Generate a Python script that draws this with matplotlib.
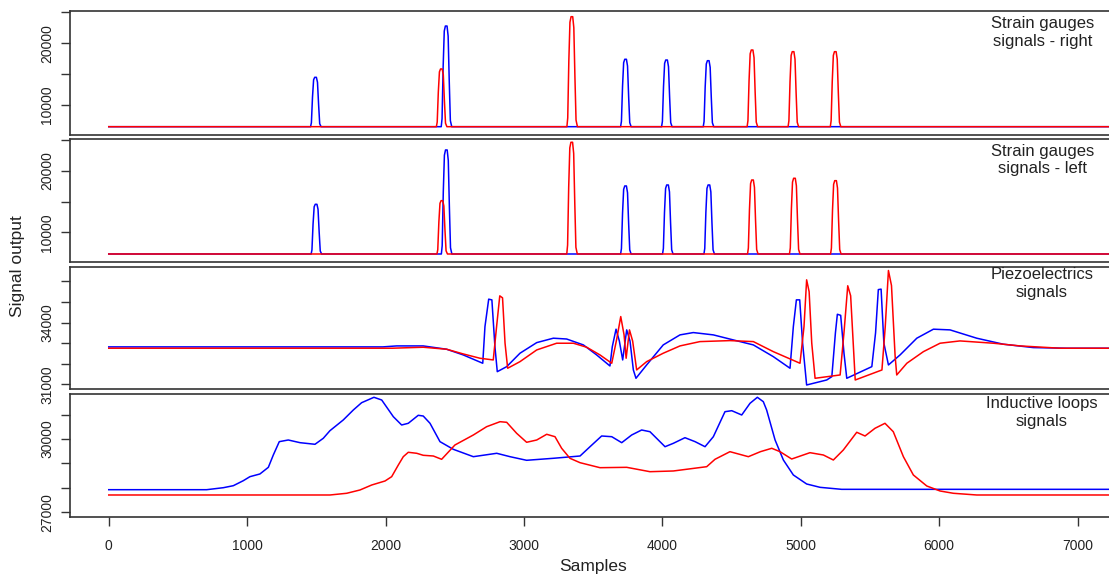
import matplotlib
matplotlib.use("Agg")
import matplotlib.pyplot as plt
import numpy as np

plt.rcParams['font.family'] = ['Liberation Sans', 'DejaVu Sans']

# ---------------- data ----------------
x_ticks = [0, 1000, 2000, 3000, 4000, 5000, 6000, 7000]
x_end = 7280

# strain gauge pulses (sample position, peak value) and baselines
sg_right_base = 6490
sg_right_blue_pos = [1494, 2438, 3734, 4030, 4331]
sg_right_blue_val = [14480, 22780, 17400, 17280, 17170]
sg_right_red_pos = [2403, 3346, 4648, 4944, 5249]
sg_right_red_val = [15830, 24290, 18900, 18630, 18630]

sg_left_base = 6470
sg_left_blue_pos = [1498, 2439, 3734, 4037, 4336]
sg_left_blue_val = [14550, 23380, 17530, 17690, 17690]
sg_left_red_pos = [2407, 3345, 4651, 4954, 5251]
sg_left_red_val = [15140, 24630, 18500, 18780, 18390]

# pulse outline: offset in samples, fraction of peak
pulse_off = [-36, -30, -22, -14, -6, 6, 14, 22, 30, 40]
pulse_rel = [0.0, 0.08, 0.6, 0.95, 1.0, 1.0, 0.9, 0.45, 0.06, 0.0]

# piezoelectric signals (sample, value)
pz_blue_x = [0, 1980, 2080, 2272, 2441, 2561, 2702, 2718, 2745, 2768, 2790, 2807, 2875, 2971,
             3092, 3212, 3308, 3429, 3525, 3621, 3638, 3665, 3689, 3713, 3742, 3766, 3790, 3809,
             3886, 4006, 4127, 4223, 4368, 4512, 4657, 4801, 4922, 4946, 4968, 4992, 5013, 5042,
             5187, 5224, 5250, 5264, 5288, 5312, 5332, 5513, 5540, 5560, 5580, 5600, 5633, 5717,
             5838, 5958, 6078, 6271, 6463, 6680, 6921, 7280]
pz_blue_y = [32817, 32817, 32864, 32864, 32703, 32426, 32022, 33803, 35136, 35100, 32830, 31613, 31857, 32509,
             33025, 33239, 33200, 32913, 32426, 31890, 32830, 33677, 33100, 32183, 33643, 33100, 31700, 31292,
             31939, 32913, 33400, 33513, 33400, 33156, 32913, 32344, 31779, 33803, 35102, 35102, 32995, 30966,
             31209, 31370, 33500, 34402, 34350, 32500, 31292, 31857, 33500, 35600, 35623, 33000, 31939, 32426,
             33239, 33677, 33643, 33239, 32947, 32783, 32752, 32752]

pz_red_x = [0, 2050, 2272, 2441, 2561, 2682, 2778, 2802, 2825, 2845, 2863, 2882, 2971, 3092,
            3236, 3357, 3453, 3549, 3634, 3670, 3699, 3723, 3738, 3762, 3785, 3814, 3886, 4006,
            4127, 4271, 4488, 4657, 4801, 4994, 5023, 5042, 5060, 5079, 5103, 5284, 5313, 5339,
            5360, 5393, 5586, 5610, 5633, 5655, 5681, 5693, 5766, 5886, 6006, 6150, 6391, 6584,
            6873, 7280]
pz_red_y = [32753, 32753, 32800, 32703, 32475, 32265, 32183, 33803, 35297, 35200, 33000, 31779, 32100, 32669,
            32995, 32995, 32800, 32426, 32022, 33200, 34290, 33400, 32265, 33643, 33100, 31696, 32100, 32509,
            32864, 33074, 33122, 33074, 32587, 32022, 33803, 36075, 35500, 32995, 31292, 31453, 33600, 35787,
            35300, 31209, 31696, 33800, 36528, 35800, 32400, 31453, 32022, 32587, 32995, 33107, 32995, 32864,
            32752, 32752]

# inductive loop signals (sample, value)
il_blue_x = [0, 707, 828, 900, 972, 1020, 1092, 1153, 1189, 1232, 1297, 1382, 1490, 1550, 1598,
             1694, 1767, 1827, 1916, 1972, 2056, 2116, 2164, 2236, 2272, 2321, 2393, 2489, 2634,
             2803, 2899, 3019, 3212, 3405, 3477, 3561, 3634, 3706, 3778, 3850, 3910, 4019, 4079,
             4163, 4236, 4308, 4368, 4452, 4501, 4573, 4633, 4686, 4729, 4753, 4814, 4874, 4946,
             5042, 5139, 5295, 7280]
il_blue_y = [27926, 27926, 28008, 28090, 28295, 28460, 28570, 28843, 29350, 29895, 29963, 29853, 29787, 30033, 30344,
             30783, 31193, 31492, 31713, 31602, 30918, 30578, 30647, 30975, 30946, 30647, 29895, 29582, 29279,
             29418, 29279, 29131, 29213, 29307, 29688, 30127, 30098, 29853, 30168, 30373, 30303, 29688, 29827,
             30057, 29895, 29688, 30098, 31123, 31164, 30988, 31467, 31713, 31533, 31193, 29963, 29143, 28529,
             28160, 28023, 27941, 27941]

il_red_x = [0, 1598, 1719, 1815, 1900, 1996, 2044, 2092, 2128, 2164, 2225, 2272, 2345, 2405, 2501,
            2634, 2730, 2827, 2875, 2947, 3019, 3092, 3164, 3224, 3272, 3332, 3405, 3549, 3742,
            3910, 4079, 4320, 4380, 4488, 4621, 4708, 4790, 4850, 4934, 5066, 5163, 5235, 5307,
            5404, 5464, 5536, 5608, 5668, 5741, 5813, 5910, 6006, 6102, 6271, 7280]
il_red_y = [27709, 27709, 27779, 27914, 28119, 28283, 28460, 28938, 29279, 29459, 29418, 29336, 29307, 29172, 29758,
            30168, 30508, 30713, 30688, 30237, 29869, 29963, 30197, 30098, 29623, 29213, 29033, 28828, 28843,
            28664, 28693, 28869, 29172, 29484, 29279, 29484, 29623, 29484, 29184, 29443, 29348, 29143, 29553,
            30279, 30127, 30443, 30647, 30303, 29279, 28529, 28078, 27873, 27779, 27709, 27709]

panel_titles = ["Strain gauges\nsignals - right", "Strain gauges\nsignals - left",
                "Piezoelectrics\nsignals", "Inductive loops\nsignals"]
x_label = "Samples"
y_label = "Signal output"

# ---------------- drawing ----------------
W, H = 1109, 576
fig = plt.figure(figsize=(W / 100, H / 100), dpi=100)

BLUE = '#0000FF'
RED = '#FF0000'
LW = 1.1


def pulses(pos, val, base):
    xs, ys = [0], [base]
    for p, v in zip(pos, val):
        for o, r in zip(pulse_off, pulse_rel):
            xs.append(p + o)
            ys.append(base + r * (v - base))
    xs.append(x_end)
    ys.append(base)
    return xs, ys


def make_ax(top_px, bot_px):
    left = 70 / W
    right_px = 1116.4
    ax = fig.add_axes([left, 1 - bot_px / H, (right_px - 70) / W, (bot_px - top_px) / H])
    ax.set_xlim(-280, 7280)
    for s in ['top', 'bottom', 'left']:
        ax.spines[s].set_color('#333333')
        ax.spines[s].set_linewidth(1.2)
    ax.spines['right'].set_visible(False)
    ax.tick_params(axis='y', direction='out', length=6.5, width=1.0, color='#333333',
                   labelsize=10, pad=5, labelrotation=90, labelcolor='#222222')
    for lab in ax.get_yticklabels():
        lab.set_va('center')
    return ax


def set_yticks(ax, ticks, labelled):
    ax.set_yticks(ticks)
    ax.set_yticklabels([str(t) if t in labelled else '' for t in ticks], va='center')


# panel 1
ax1 = make_ax(11, 135)
bx, by = pulses(sg_right_blue_pos, sg_right_blue_val, sg_right_base)
rx, ry = pulses(sg_right_red_pos, sg_right_red_val, sg_right_base)
ax1.plot(bx, by, color=BLUE, lw=LW)
ax1.plot(rx, ry, color=RED, lw=LW)
ax1.set_ylim(5146, 25210)
set_yticks(ax1, [10000, 15000, 20000, 25000], [10000, 20000])
ax1.tick_params(axis='x', bottom=False, labelbottom=False)

# panel 2
ax2 = make_ax(138.7, 261.5)
bx, by = pulses(sg_left_blue_pos, sg_left_blue_val, sg_left_base)
rx, ry = pulses(sg_left_red_pos, sg_left_red_val, sg_left_base)
ax2.plot(bx, by, color=BLUE, lw=LW)
ax2.plot(rx, ry, color=RED, lw=LW)
ax2.set_ylim(5250, 25210)
set_yticks(ax2, [10000, 15000, 20000, 25000], [10000, 20000])
ax2.tick_params(axis='x', bottom=False, labelbottom=False)

# panel 3
ax3 = make_ax(266.7, 389)
ax3.plot(pz_blue_x, pz_blue_y, color=BLUE, lw=LW)
ax3.plot(pz_red_x, pz_red_y, color=RED, lw=LW)
ax3.set_ylim(30771, 36713)
set_yticks(ax3, [31000, 32000, 33000, 34000, 35000, 36000], [31000, 34000])
ax3.tick_params(axis='x', bottom=False, labelbottom=False)

# panel 4
ax4 = make_ax(394, 517)
ax4.plot(il_blue_x, il_blue_y, color=BLUE, lw=LW)
ax4.plot(il_red_x, il_red_y, color=RED, lw=LW)
ax4.set_ylim(26807, 31848)
set_yticks(ax4, [27000, 28000, 29000, 30000, 31000], [27000, 30000])
ax4.set_xticks(x_ticks)
ax4.set_xticklabels([str(t) for t in x_ticks])
ax4.tick_params(axis='x', direction='out', length=6.5, width=1.0, color='#333333',
                labelsize=10, pad=9, labelcolor='#222222')

# panel titles
title_centers = [(1043, 32.5), (1043, 160), (1042, 283.5), (1042, 412.5)]
for t, (cx, cy) in zip(panel_titles, title_centers):
    fig.text(cx / W, 1 - cy / H, t, ha='center', va='center', fontsize=12,
             linespacing=1.2, color='#222222')

fig.text(593 / W, 1 - 566 / H, x_label, ha='center', va='center', fontsize=12.5, color='#222222')
fig.text(18 / W, 1 - 266 / H, y_label, ha='center', va='center', rotation=90, fontsize=12.5,
         color='#222222')

fig.savefig("out.png", dpi=100)
